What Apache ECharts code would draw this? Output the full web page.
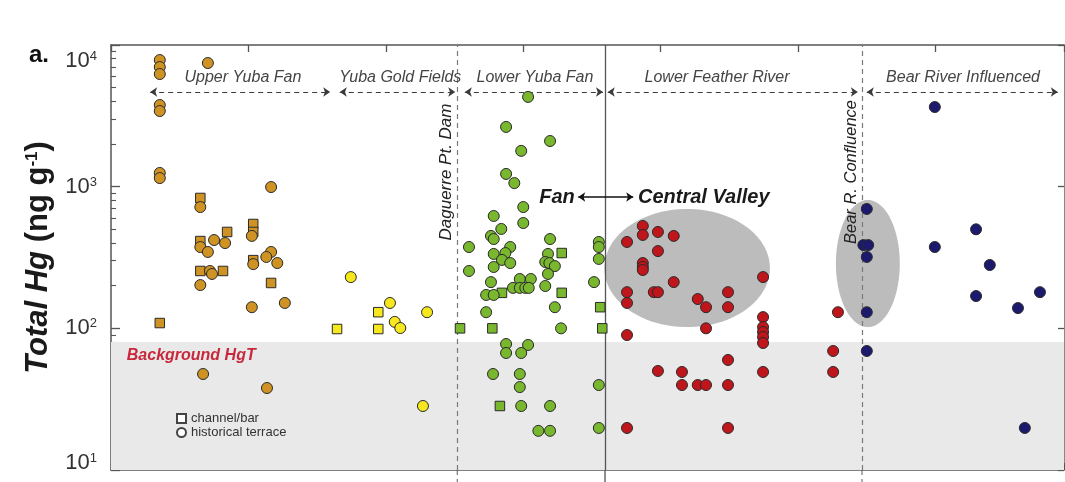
<!DOCTYPE html>
<html><head><meta charset="utf-8">
<script src="https://cdn.jsdelivr.net/npm/echarts@6/dist/echarts.min.js"></script>
<style>html,body{margin:0;padding:0;background:#fff}#c{width:1065px;height:482px}</style>
</head><body><div id="c"></div>
<script>
// ---------- data (x: distance along river, arbitrary km units; y: Total Hg ng/g) ----------
const upperYubaSquares = [[13.0,832],[20.7,545],[20.7,479],[13.0,413],[16.9,479],[20.7,303],[13.0,254],[16.3,254],[23.3,209],[7.1,109]];
const upperYubaCircles = [[7.1,7830],[7.1,6990],[7.1,6240],[14.1,7460],[7.1,3770],[7.1,3420],[7.1,1250],[7.1,1150],[23.3,994],[13.0,718],[20.5,449],[13.0,375],[15.0,420],[16.6,400],[14.1,346],[20.7,284],[23.3,346],[22.6,319],[24.2,289],[14.4,254],[14.7,242],[13.0,202],[20.5,141],[25.3,151],[13.4,47.6],[22.7,37.9]];
const goldFieldsSquares = [[32.9,98.9],[38.9,130],[38.9,98.9]];
const goldFieldsCircles = [[34.9,230],[40.6,151],[41.3,111],[42.1,100.5],[46.0,130],[45.4,28.3]];
const lowerYubaSquares = [[65.6,340],[56.9,178],[65.6,178],[71.2,141],[50.8,100],[55.5,100],[71.5,100],[56.6,28.3]];
const lowerYubaCircles = [[60.7,4300],[57.5,2640],[63.9,2100],[59.7,1790],[57.5,1230],[58.7,1060],[60.0,718],[55.7,621],[60.0,554],[56.8,503],[55.3,449],[55.7,427],[58.1,375],[52.1,375],[55.7,335],[57.4,340],[56.9,304],[58.1,289],[55.7,271],[63.9,427],[63.6,335],[63.2,294],[63.8,289],[64.6,275],[63.6,242],[52.1,254],[55.3,212],[59.5,223],[61.1,223],[63.2,199],[54.6,172],[55.7,172],[58.5,193],[59.5,193],[60.3,193],[60.8,193],[70.3,212],[71.0,407],[71.0,375],[71.0,309],[54.6,130],[64.6,141],[65.5,100],[57.5,77.5],[60.7,76.3],[57.5,67.0],[59.7,67.0],[55.6,47.6],[59.5,47.6],[59.5,38.5],[71.0,39.8],[59.7,28.3],[63.9,28.3],[62.2,18.9],[63.9,18.9],[71.0,19.8]];
const lowerFeatherCircles = [[77.4,528],[77.4,456],[79.6,479],[81.9,449],[75.1,407],[79.6,351],[77.4,289],[77.4,271],[77.4,258],[81.9,212],[75.1,180],[75.1,151],[79.0,180],[79.6,180],[85.4,161],[86.6,141],[89.8,180],[89.8,141],[94.9,230],[86.6,100],[75.1,89.7],[94.9,120],[94.9,102],[94.9,94.2],[94.9,86.9],[94.9,78.8],[105.8,130],[105.1,69.2],[89.8,59.8],[105.1,49.2],[94.9,49.2],[79.6,50.0],[83.1,49.2],[83.1,39.8],[85.4,39.8],[86.6,39.8],[89.8,39.8],[89.8,19.8],[75.1,19.8]];
const bearRiverCircles = [[119.9,3650],[110.0,696],[125.9,500],[109.5,387],[110.2,387],[110.0,319],[119.9,375],[127.9,280],[125.9,169],[135.2,180],[132.0,139],[110.0,130],[110.0,69.2],[133.0,19.8]];

const regionNames = ['Upper Yuba Fan','Yuba Gold Fields','Lower Yuba Fan','Lower Feather River','Bear River Influenced'];
const regionStart = [5.7, 33.3, 51.5, 72.3, 110.0];
const regionEnd   = [31.9, 50.1, 71.6, 108.7, 137.8];
const regionLabelX = [19.2, 42.1, 61.7, 88.2, 124.0];
const regionArrowY = 4660;
const regionLabelY = 5940;

const landmarkNames = ['Daguerre Pt. Dam', 'Bear R. Confluence'];
const landmarkX = [50.4, 109.3];
const fanBoundaryX = 71.9;
const backgroundHgT = 80;          // upper limit of background band (ng/g)
const ellipseBounds = [[71.8, 95.9, 102, 696], [105.5, 114.8, 102, 805]]; // x1,x2,y1,y2
const yTickValues = [10, 100, 1000, 10000];
const yMinorTicks = [];
for (const d of [10, 100, 1000]) for (let m = 2; m <= 9; m++) yMinorTicks.push(m * d);

// ---------- styling ----------
const FONT = "'Liberation Sans', Arial, sans-serif";
const C = {upper:'#cf9324', gold:'#f6e81c', lower:'#79b72e', feather:'#bf161c', bear:'#1c1a6c'};
const AX = '#555';

function scat(name, data, symbol, color) {
  return {type:'scatter', name, data, symbol, symbolSize: symbol === 'rect' ? 9.5 : 11,
    itemStyle:{color, opacity:1, borderColor:'#2a2a2a', borderWidth:1}, z:6, silent:true, animation:false};
}

const chart = echarts.init(document.getElementById('c'), null, {renderer:'canvas'});

function yLabelFmt(v) {
  const e = Math.round(Math.log10(v));
  const k = e === 4 ? 't' : (e === 1 ? 'm' : 'n');
  return '{' + k + 'b|10}{' + k + 's|' + e + '}';
}
const lb = {fontSize:22, fontFamily:FONT, color:'#333'};
const ls = {fontSize:13, fontFamily:FONT, color:'#333', verticalAlign:'top'};

const yBase = {type:'log', logBase:10, min:10, max:10000, splitLine:{show:false}, gridIndex:0};

const markLineData = [];
landmarkX.forEach(x => markLineData.push([
  {coord:[x, 10], symbol:'none', lineStyle:{type:[5,4], color:'#7a7a7a', width:1.2}},
  {coord:[x, 10000], symbol:'none'}]));
markLineData.push([
  {coord:[fanBoundaryX, 10], symbol:'none', lineStyle:{type:'solid', color:'#555', width:1.3}},
  {coord:[fanBoundaryX, 10000], symbol:'none'}]);
regionNames.forEach((n, i) => markLineData.push([
  {coord:[regionStart[i], regionArrowY], symbol:'arrow', lineStyle:{type:[5,4], color:'#3a3a3a', width:1.2}},
  {coord:[regionEnd[i], regionArrowY], symbol:'arrow'}]));
markLineData.push([
  {coord:[68.0, 845], symbol:'arrow', lineStyle:{type:'solid', color:'#111', width:1.6}},
  {coord:[76.0, 845], symbol:'arrow'}]);

const option = {
  animation:false,
  backgroundColor:'#fff',
  grid:{left:111, right:1, top:45, bottom:12, containLabel:false},
  legend:{left:171, top:407, orient:'vertical', itemWidth:9, itemHeight:9, itemGap:1, selectedMode:false,
    textStyle:{fontSize:13, color:'#333', fontFamily:FONT},
    data:[{name:'channel/bar', icon:'rect'}, {name:'historical terrace', icon:'circle'}]},
  xAxis:[
    {type:'value', min:0, max:138.7, interval:20, position:'bottom',
      axisLine:{show:true, lineStyle:{color:AX, width:1.5}},
      axisTick:{show:true, inside:true, length:7, lineStyle:{color:AX, width:1.3}},
      axisLabel:{show:false}, splitLine:{show:false}},
    {type:'value', min:0, max:138.7, interval:20, position:'top',
      axisLine:{show:true, lineStyle:{color:AX, width:1.5}},
      axisTick:{show:true, inside:true, length:7, lineStyle:{color:AX, width:1.3}},
      axisLabel:{show:false}, splitLine:{show:false}}
  ],
  yAxis:[
    Object.assign({}, yBase, {position:'left',
      axisLine:{show:true, lineStyle:{color:AX, width:1.5}},
      axisTick:{show:true, inside:true, length:9, customValues:yTickValues, lineStyle:{color:AX, width:1.3}},
      axisLabel:{show:true, margin:14, customValues:yTickValues, formatter:yLabelFmt,
        rich:{nb:lb, ns:ls,
          tb:Object.assign({}, lb, {padding:[32,0,0,0]}), ts:Object.assign({}, ls, {padding:[32,0,0,0]}),
          mb:Object.assign({}, lb, {padding:[0,0,14,0]}), ms:Object.assign({}, ls, {padding:[0,0,14,0]})}},
      name:'{i|Total Hg }{n|(ng g}{s|-1}{n|)}', nameLocation:'middle', nameRotate:90, nameGap:51,
      nameTextStyle:{rich:{
        i:{fontSize:31, fontWeight:'bold', fontStyle:'italic', fontFamily:FONT, color:'#1a1a1a'},
        n:{fontSize:31, fontWeight:'bold', fontFamily:FONT, color:'#1a1a1a'},
        s:{fontSize:17, fontWeight:'bold', fontFamily:FONT, color:'#1a1a1a', verticalAlign:'top'}}}}),
    Object.assign({}, yBase, {position:'left', axisLine:{show:false},
      axisTick:{show:true, inside:true, length:5, customValues:yMinorTicks, lineStyle:{color:AX, width:1.1}},
      axisLabel:{show:false}}),
    Object.assign({}, yBase, {position:'right',
      axisLine:{show:true, lineStyle:{color:'#888', width:1}},
      axisTick:{show:true, inside:true, length:6, customValues:yTickValues, lineStyle:{color:AX, width:1.3}},
      axisLabel:{show:false}})
  ],
  series:[
    {type:'scatter', name:'_band', data:[], z:1, silent:true,
      markArea:{silent:true, itemStyle:{color:'#e9e9e9'}, data:[[{yAxis:10}, {yAxis:backgroundHgT}]]}},
    {type:'custom', name:'_ellipses', data:ellipseBounds, encode:{x:[0,1], y:[2,3]}, z:3, silent:true,
      renderItem:function(params, api){
        const a = api.coord([api.value(0), api.value(2)]);
        const b = api.coord([api.value(1), api.value(3)]);
        const cx = (a[0]+b[0])/2, cy = (a[1]+b[1])/2, rx = Math.abs(b[0]-a[0])/2, ry = Math.abs(b[1]-a[1])/2;
        const pts = [];
        for (let k = 0; k < 90; k++) { const t = k/90*2*Math.PI; pts.push([cx+rx*Math.cos(t), cy+ry*Math.sin(t)]); }
        return {type:'polygon', shape:{points:pts}, style:{fill:'#bcbcbc'}};
      }},
    {type:'scatter', name:'_lines', data:[], z:4, silent:true,
      markLine:{silent:true, animation:false, symbolSize:7, label:{show:false}, data:markLineData}},
    scat('Upper Yuba Fan squares', upperYubaSquares, 'rect', C.upper),
    scat('Upper Yuba Fan circles', upperYubaCircles, 'circle', C.upper),
    scat('Yuba Gold Fields squares', goldFieldsSquares, 'rect', C.gold),
    scat('Yuba Gold Fields circles', goldFieldsCircles, 'circle', C.gold),
    scat('Lower Yuba Fan squares', lowerYubaSquares, 'rect', C.lower),
    scat('Lower Yuba Fan circles', lowerYubaCircles, 'circle', C.lower),
    scat('Lower Feather River circles', lowerFeatherCircles, 'circle', C.feather),
    scat('Bear River circles', bearRiverCircles, 'circle', C.bear),
    {type:'scatter', name:'channel/bar', data:[], symbol:'rect', itemStyle:{color:'#fff', opacity:1, borderColor:'#444', borderWidth:1.2}},
    {type:'scatter', name:'historical terrace', data:[], symbol:'circle', itemStyle:{color:'#fff', opacity:1, borderColor:'#444', borderWidth:1.2}}
  ]
};
chart.setOption(option);

// ---------- text annotations placed from data coordinates ----------
function P(x, y) { return chart.convertToPixel({seriesIndex:3}, [x, y]); }
function txt(text, p, font, fill, align, vAlign, rotation) {
  return {type:'text', x:p[0], y:p[1], rotation:rotation || 0, silent:true, z:20,
    style:{text, font, fill, textAlign:align, align:align, textVerticalAlign:vAlign, verticalAlign:vAlign}};
}
const g = [];
regionNames.forEach((n, i) => g.push(txt(n, P(regionLabelX[i], regionLabelY), 'italic 16px ' + FONT, '#444', 'center', 'middle')));
g.push(txt(landmarkNames[0], P(48.8, 1269), 'italic 17px ' + FONT, '#222', 'center', 'middle', Math.PI/2));
g.push(txt(landmarkNames[1], P(107.7, 1269), 'italic 16.5px ' + FONT, '#222', 'center', 'middle', Math.PI/2));
g.push(txt('Fan', P(67.5, 845), 'italic bold 20px ' + FONT, '#1a1a1a', 'right', 'middle'));
g.push(txt('Central Valley', P(76.7, 845), 'italic bold 20px ' + FONT, '#1a1a1a', 'left', 'middle'));
g.push(txt('Background HgT', P(2.3, 63.8), 'italic bold 16px ' + FONT, '#c8283c', 'left', 'middle'));
g.push({type:'text', left:29, top:43, silent:true, style:{text:'a.', font:'bold 24px ' + FONT, fill:'#111'}});
// extensions of the vertical lines below the plot frame
const bottomY = P(0, 10)[1];
landmarkX.forEach(x => { const px = P(x, 10)[0];
  g.push({type:'line', silent:true, shape:{x1:px, y1:bottomY, x2:px, y2:bottomY+14}, style:{stroke:'#7a7a7a', lineWidth:1.2, lineDash:[5,4]}}); });
{ const px = P(fanBoundaryX, 10)[0];
  g.push({type:'line', silent:true, shape:{x1:px, y1:bottomY, x2:px, y2:bottomY+14}, style:{stroke:'#555', lineWidth:1.3}}); }
chart.setOption({graphic:g});
</script></body></html>
